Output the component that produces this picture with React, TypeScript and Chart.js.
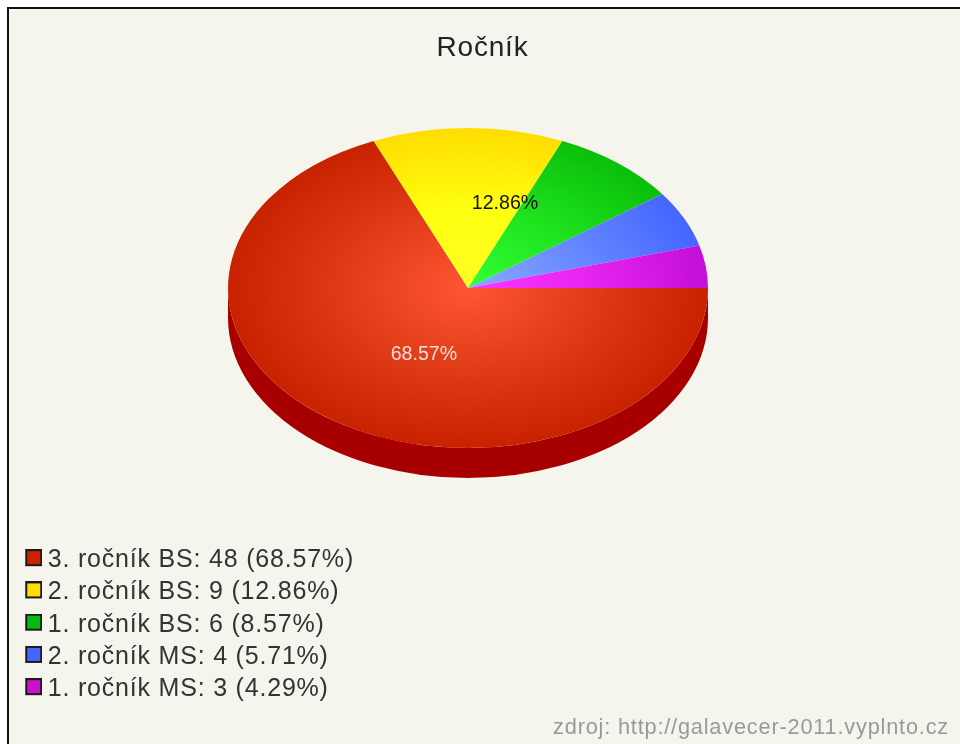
import React, { useEffect, useRef } from "react";
import { Chart, registerables } from "chart.js";

Chart.register(...registerables);

const titleText = "Ročník";
const creditText = "zdroj: http://galavecer-2011.vyplnto.cz";
const categories = ["3. ročník BS", "2. ročník BS", "1. ročník BS", "2. ročník MS", "1. ročník MS"];
const values = [48, 9, 6, 4, 3];
const swatchColors = ["#cc2200", "#ffdd00", "#00bb11", "#4466ff", "#cc11cc"];
const innerColors = ["#ff5533", "#ffff22", "#33ff33", "#88aaff", "#ff33ff"];
const midColors = ["#e03c18", "#ffff11", "#1fe31f", "#6688ff", "#e625f0"];
const outerColors = ["#c82200", "#ffdd00", "#0abf0a", "#4466ff", "#c30fd6"];
const sideColors = ["#a80000", "#c8a800", "#008800", "#2244cc", "#990099"];
const sliceLabelColors = ["#f5e0d8", "#111111"];

const FONT = "'Liberation Sans', Arial, sans-serif";
const PIE = { cx: 459, cy: 279, rx: 240, ry: 160, depth: 30 };
const TEXT_SPACING = "0.8px";
const LABEL_SHIFT = [
  { x: 22, y: 0 },
  { x: 37, y: -4 },
];

const total = values.reduce((a, b) => a + b, 0);
const pct = (v: number) => ((v / total) * 100).toFixed(2);

function makeSwatch(color: string) {
  // transparent strips place the square relative to the image's centre point
  const c = document.createElement("canvas");
  c.width = 26;
  c.height = 22;
  const g = c.getContext("2d")!;
  g.fillStyle = "#1a1a1a";
  g.fillRect(9, 0, 17, 17);
  g.fillStyle = color;
  g.fillRect(11, 2, 13, 13);
  return c;
}

const pie3d = {
  id: "pie3d",
  beforeLayout(chart: any) {
    chart.ctx.letterSpacing = TEXT_SPACING;
  },
  beforeDraw(chart: any) {
    chart.ctx.letterSpacing = TEXT_SPACING;
  },
  beforeDatasetsDraw(chart: any) {
    const arcs = chart.getDatasetMeta(0).data;
    const ctx = chart.ctx;
    // extruded rim: only the part of each slice facing the viewer
    arcs.forEach((arc: any, i: number) => {
      const a0 = Math.max(arc.startAngle, 0);
      const a1 = Math.min(arc.endAngle, Math.PI);
      if (a1 <= a0) return;
      ctx.save();
      ctx.beginPath();
      ctx.ellipse(PIE.cx, PIE.cy, PIE.rx, PIE.ry, 0, a0, a1);
      ctx.ellipse(PIE.cx, PIE.cy + PIE.depth, PIE.rx, PIE.ry, 0, a1, a0, true);
      ctx.closePath();
      ctx.fillStyle = sideColors[i];
      ctx.fill();
      ctx.restore();
    });
    const first = arcs[0];
    ctx.save();
    ctx.translate(PIE.cx, PIE.cy);
    ctx.scale(PIE.rx / first.outerRadius, PIE.ry / first.outerRadius);
    ctx.translate(-first.x, -first.y);
  },
  afterDatasetsDraw(chart: any) {
    const ctx = chart.ctx;
    ctx.restore();
    const arcs = chart.getDatasetMeta(0).data;
    ctx.save();
    ctx.letterSpacing = "0px";
    ctx.font = `19.6px ${FONT}`;
    ctx.textAlign = "center";
    ctx.textBaseline = "middle";
    arcs.forEach((arc: any, i: number) => {
      if (!LABEL_SHIFT[i]) return;
      const mid = (arc.startAngle + arc.endAngle) / 2;
      const x = PIE.cx + Math.cos(mid) * PIE.rx * 0.5 + LABEL_SHIFT[i].x;
      const y = PIE.cy + Math.sin(mid) * PIE.ry * 0.5 + LABEL_SHIFT[i].y;
      ctx.fillStyle = sliceLabelColors[i];
      ctx.fillText(`${pct(values[i])}%`, x, y);
    });
    ctx.restore();
  },
};

export default function App() {
  const ref = useRef<HTMLCanvasElement>(null);
  useEffect(() => {
    const swatches = swatchColors.map(makeSwatch);
    const chart = new Chart(ref.current!, {
      type: "pie",
      data: {
        labels: categories,
        datasets: [
          {
            data: values,
            borderWidth: 0,
            clip: false,
            backgroundColor: (c: any) => {
              const area = c.chart.chartArea;
              if (!area) return swatchColors[c.dataIndex];
              const x = (area.left + area.right) / 2;
              const y = (area.top + area.bottom) / 2;
              const r = Math.min(area.right - area.left, area.bottom - area.top) / 2;
              const g = c.chart.ctx.createRadialGradient(x, y, 0, x, y, r);
              g.addColorStop(0, innerColors[c.dataIndex]);
              g.addColorStop(0.5, midColors[c.dataIndex]);
              g.addColorStop(1, outerColors[c.dataIndex]);
              return g;
            },
          } as any,
        ],
      },
      options: {
        responsive: false,
        animation: false,
        events: [],
        rotation: 90,
        layout: { padding: { left: 7, right: 7, top: 0, bottom: 0 } },
        plugins: {
          tooltip: { enabled: false },
          title: {
            display: true,
            text: titleText,
            color: "#222222",
            font: { family: FONT, size: 28, weight: "normal" },
            padding: { top: 22, bottom: 10 },
          },
          subtitle: {
            display: true,
            text: creditText,
            position: "bottom",
            align: "end",
            color: "#999999",
            font: { family: FONT, size: 21.75, weight: "normal" },
            padding: { top: 6, bottom: 3 },
          },
          legend: {
            position: "left",
            align: "end",
            fullSize: false,
            labels: {
              font: { family: FONT, size: 25 },
              color: "#333333",
              padding: 7.25,
              usePointStyle: true,
              pointStyleWidth: 12,
              boxHeight: 16,
              generateLabels: () =>
                categories.map((name, i) => ({
                  text: `${name}: ${values[i]} (${pct(values[i])}%)`,
                  fillStyle: swatchColors[i],
                  strokeStyle: "#1a1a1a",
                  lineWidth: 0,
                  pointStyle: swatches[i],
                  fontColor: "#333333",
                  index: i,
                })),
            },
          },
        },
      } as any,
      plugins: [pie3d],
    });
    return () => chart.destroy();
  }, []);
  return (
    <div style={{ position: "fixed", inset: 0, background: "#ffffff", overflow: "hidden" }}>
      <div
        style={{
          position: "absolute",
          left: 7,
          top: 7,
          width: 980,
          height: 770,
          background: "#f5f5ed",
          borderLeft: "2px solid #111111",
          borderTop: "2px solid #111111",
          filter: "blur(0.6px)",
        }}
      >
        <canvas ref={ref} width={947} height={735} style={{ display: "block" }} />
      </div>
    </div>
  );
}
